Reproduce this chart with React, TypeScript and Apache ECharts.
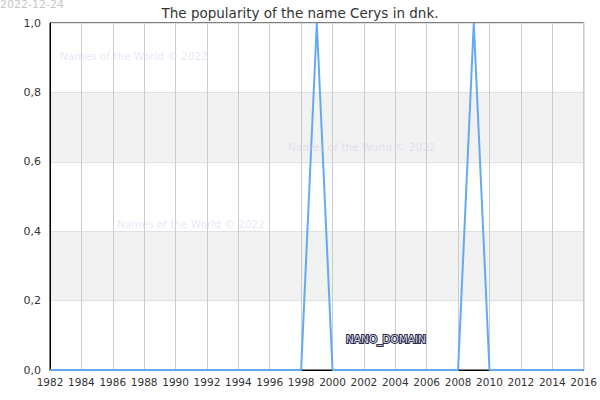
import React, { useEffect, useRef } from "react";
import * as echarts from "echarts";

const titleText = "The popularity of the name Cerys in dnk.";
const dateText = "2022-12-24";
const watermarkText = "Names of the World © 2022";
const domainText = "NANO_DOMAIN";

const years = [
  1982, 1983, 1984, 1985, 1986, 1987, 1988, 1989, 1990, 1991, 1992, 1993,
  1994, 1995, 1996, 1997, 1998, 1999, 2000, 2001, 2002, 2003, 2004, 2005,
  2006, 2007, 2008, 2009, 2010, 2011, 2012, 2013, 2014, 2015, 2016,
];
const popularity = [
  0, 0, 0, 0, 0, 0, 0, 0, 0, 0, 0, 0,
  0, 0, 0, 0, 0, 1, 0, 0, 0, 0, 0, 0,
  0, 0, 0, 1, 0, 0, 0, 0, 0, 0, 0,
];

export default function App() {
  const ref = useRef<HTMLDivElement>(null);
  useEffect(() => {
    document.body.style.margin = "0";
    const chart = echarts.init(ref.current!, null, { renderer: "svg" });
    const wm = (x: number, y: number) => ({
      type: "text",
      left: x,
      top: y,
      silent: true,
      z: 100,
      style: {
        text: watermarkText,
        fill: "rgba(200,200,240,0.45)",
        font: "10.5px 'DejaVu Sans', sans-serif",
      },
    });
    chart.setOption({
      animation: false,
      title: {
        text: titleText,
        left: "center",
        top: 1,
        textStyle: {
          fontSize: 13.5,
          fontWeight: "normal",
          color: "#333",
          fontFamily: "'DejaVu Sans', sans-serif",
        },
      },
      grid: {
        left: 50,
        right: 15,
        top: 23,
        bottom: 30,
        show: true,
        borderColor: "#000",
        borderWidth: 1,
        backgroundColor: "transparent",
      },
      xAxis: {
        type: "value",
        min: 1982,
        max: 2016,
        interval: 2,
        axisLine: { show: true, lineStyle: { color: "#000", width: 1 } },
        axisTick: { show: false },
        axisLabel: {
          formatter: (v: number) => String(v),
          color: "#333",
          fontSize: 10.5,
          margin: 6,
          fontFamily: "'DejaVu Sans', sans-serif",
        },
        splitLine: { show: true, lineStyle: { color: "#ccc", width: 1 } },
      },
      yAxis: {
        type: "value",
        min: 0,
        max: 1,
        interval: 0.2,
        axisLine: { show: true, lineStyle: { color: "#000", width: 1 } },
        axisTick: { show: false },
        axisLabel: {
          formatter: (v: number) => v.toFixed(1).replace(".", ","),
          color: "#333",
          fontSize: 11,
          margin: 9,
          fontFamily: "'DejaVu Sans', sans-serif",
        },
        splitLine: { show: true, lineStyle: { color: "#e0e0e0", width: 1 } },
        splitArea: {
          show: true,
          areaStyle: { color: ["rgba(255,255,255,0)", "#f2f2f2"] },
        },
      },
      series: [
        {
          type: "line",
          data: years.map((y, i) => [y, popularity[i]]),
          showSymbol: false,
          lineStyle: { color: "#64aaf0", width: 2 },
          itemStyle: { color: "#64aaf0" },
        },
      ],
      graphic: [
        {
          type: "text",
          left: 0,
          top: -1,
          style: {
            text: dateText,
            fill: "#c8c8c8",
            font: "11px 'DejaVu Sans', sans-serif",
          },
        },
        wm(60, 50),
        wm(288, 141),
        wm(117, 218),
        {
          type: "text",
          left: 345,
          top: 332,
          z: 100,
          style: {
            text: domainText,
            fill: "#d8d8f0",
            stroke: "#2a2a40",
            lineWidth: 2,
            font: "10.5px 'DejaVu Sans', sans-serif",
          },
        },
      ],
    });
    return () => chart.dispose();
  }, []);
  return (
    <div
      ref={ref}
      style={{ width: 600, height: 400, position: "absolute", left: 0, top: 0 }}
    />
  );
}
